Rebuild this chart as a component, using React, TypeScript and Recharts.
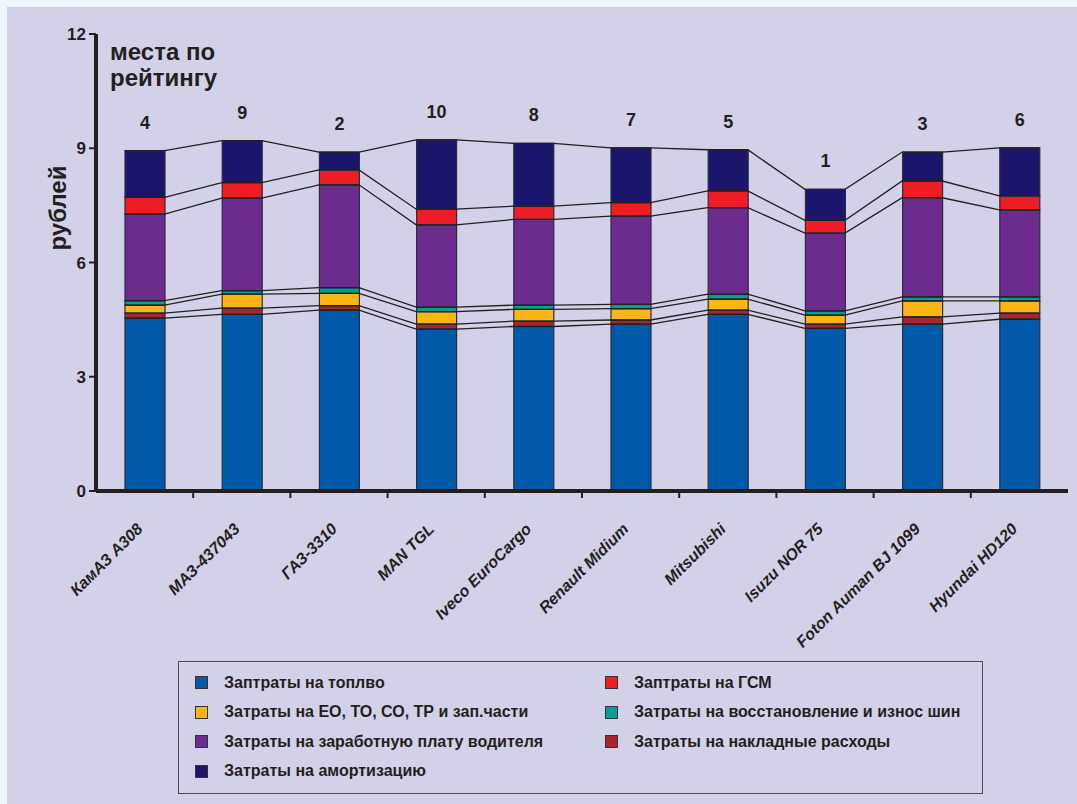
import { ComposedChart, Bar, Line, XAxis, YAxis, LabelList } from 'recharts';

const categories = ['КамАЗ А308', 'МАЗ-437043', 'ГАЗ-3310', 'MAN TGL', 'Iveco EuroCargo', 'Renault Midium', 'Mitsubishi', 'Isuzu NOR 75', 'Foton Auman BJ 1099', 'Hyundai HD120'];
const ranks = [4, 9, 2, 10, 8, 7, 5, 1, 3, 6];

// rubles per unit, stacked bottom to top
const fuel = [4.54, 4.64, 4.75, 4.25, 4.32, 4.38, 4.64, 4.27, 4.38, 4.51];
const overhead = [0.13, 0.16, 0.12, 0.13, 0.14, 0.11, 0.11, 0.11, 0.19, 0.16];
const maintenance = [0.21, 0.37, 0.32, 0.33, 0.31, 0.3, 0.29, 0.24, 0.42, 0.32];
const tires = [0.12, 0.09, 0.15, 0.12, 0.11, 0.11, 0.13, 0.11, 0.11, 0.11];
const salary = [2.27, 2.43, 2.7, 2.16, 2.25, 2.32, 2.27, 2.04, 2.6, 2.28];
const lubricants = [0.44, 0.41, 0.39, 0.41, 0.35, 0.35, 0.44, 0.34, 0.44, 0.37];
const depreciation = [1.23, 1.1, 0.47, 1.82, 1.65, 1.44, 1.08, 0.81, 0.76, 1.26];

const yTicks = [0, 3, 6, 9, 12];

const SERIES = [
  { key: 'fuel', values: fuel, color: '#0059a9', name: 'Заптраты на топлво' },
  { key: 'overhead', values: overhead, color: '#a3282f', name: 'Затраты на накладные расходы' },
  { key: 'maintenance', values: maintenance, color: '#fbb616', name: 'Затраты на ЕО, ТО, СО, ТР и зап.части' },
  { key: 'tires', values: tires, color: '#00a093', name: 'Затраты на восстановление и износ шин' },
  { key: 'salary', values: salary, color: '#6b2c8e', name: 'Затраты на заработную плату водителя' },
  { key: 'lubricants', values: lubricants, color: '#ee1c25', name: 'Заптраты на ГСМ' },
  { key: 'depreciation', values: depreciation, color: '#1b166b', name: 'Затраты на амортизацию' },
];

const legendCols = [
  ['fuel', 'maintenance', 'salary', 'depreciation'],
  ['lubricants', 'tires', 'overhead'],
];

const data = categories.map((name, i) => {
  const row: any = { name, rank: ranks[i] };
  let cum = 0;
  SERIES.forEach((s) => {
    row[s.key] = s.values[i];
    cum += s.values[i];
    row[`${s.key}Top`] = +cum.toFixed(3);
  });
  return row;
});

const FONT = "'Liberation Sans', Arial, sans-serif";
const INK = '#231f20';
const BAR_W = 40;
const W = 1077;
const H = 660;
const M = { top: 34, right: 9, left: 0, bottom: 0 };
const Y_W = 96;
const BAND = (W - M.left - M.right - Y_W) / categories.length;

// draws each point as a bar-wide flat step, joined edge to edge
const edgeCurve = (half: number) => (ctx: any) => ({
  _first: true,
  areaStart() {},
  areaEnd() {},
  lineStart() { this._first = true; },
  lineEnd() {},
  point(x: number, y: number) {
    if (this._first) { ctx.moveTo(x - half, y); this._first = false; } else ctx.lineTo(x - half, y);
    ctx.lineTo(x + half, y);
  },
});

const CategoryTick = ({ x, y, payload, index }: any) => (
  <g>
    {index < categories.length - 1 && (
      <line x1={x + BAND / 2} x2={x + BAND / 2} y1={y} y2={y + 7} stroke={INK} strokeWidth={2} />
    )}
    <text
      transform={`translate(${x - 1},${y + 39}) rotate(-45)`}
      textAnchor="end"
      fontFamily={FONT}
      fontWeight="bold"
      fontStyle="italic"
      fontSize={16}
      fill={INK}
    >
      {payload.value}
    </text>
  </g>
);

export default function App() {
  const byKey: any = Object.fromEntries(SERIES.map((s) => [s.key, s]));
  return (
    <div style={{ position: 'absolute', left: 0, top: 0, width: W, height: 804, background: '#eef7fd', overflow: 'hidden' }}>
      <div style={{ position: 'absolute', left: 7, top: 7, right: 0, bottom: 0, background: '#d3d1e7' }} />
      <div style={{ position: 'absolute', left: 0, top: 0 }}>
        <ComposedChart width={W} height={H} data={data} margin={M}>
          <XAxis
            dataKey="name"
            height={H - 491}
            axisLine={{ stroke: INK, strokeWidth: 4 }}
            tickLine={false}
            tickSize={0}
            tickMargin={0}
            interval={0}
            tick={<CategoryTick />}
          />
          <YAxis
            width={Y_W}
            domain={[0, 12]}
            ticks={yTicks}
            axisLine={{ stroke: INK, strokeWidth: 4 }}
            tickLine={{ stroke: INK, strokeWidth: 2 }}
            tickSize={7}
            tickMargin={3}
            tick={{ fill: INK, fontFamily: FONT, fontWeight: 'bold', fontSize: 17 }}
          />
          {SERIES.map((s) => (
            <Bar key={s.key} dataKey={s.key} stackId="a" barSize={BAR_W} fill={s.color} stroke="#2c2c3c" strokeWidth={1.2} isAnimationActive={false}>
              {s.key === 'depreciation' && (
                <LabelList dataKey="rank" position="top" offset={22} fill={INK} fontFamily={FONT} fontWeight="bold" fontSize={18} />
              )}
            </Bar>
          ))}
          {SERIES.map((s) => (
            <Line key={`${s.key}Top`} dataKey={`${s.key}Top`} type={edgeCurve(BAR_W / 2)} stroke={INK} strokeWidth={1.3} dot={false} activeDot={false} isAnimationActive={false} />
          ))}
          <text x={57} y={208} transform="rotate(-90 57 208)" textAnchor="middle" dominantBaseline="central" fontFamily={FONT} fontWeight="bold" fontSize={24} fill={INK}>
            рублей
          </text>
          <text x={110} y={60} fontFamily={FONT} fontWeight="bold" fontSize={24} fill={INK}>
            места по
          </text>
          <text x={110} y={86} fontFamily={FONT} fontWeight="bold" fontSize={24} fill={INK}>
            рейтингу
          </text>
        </ComposedChart>
      </div>
      <div
        style={{
          position: 'absolute', left: 178, top: 661, width: 805, height: 133, boxSizing: 'border-box',
          border: '1px solid #4a4a55', display: 'flex', padding: '6px 0 0 16px',
          fontFamily: FONT, fontWeight: 'bold', fontSize: 16, color: INK,
        }}
      >
        {legendCols.map((col, ci) => (
          <div key={ci} style={{ width: ci === 0 ? 410 : 370 }}>
            {col.map((k) => (
              <div key={k} style={{ display: 'flex', alignItems: 'center', height: 29.5, whiteSpace: 'nowrap' }}>
                <span style={{ width: 11, height: 11, background: byKey[k].color, border: '1px solid #333', marginRight: 16, flexShrink: 0 }} />
                <span>{byKey[k].name}</span>
              </div>
            ))}
          </div>
        ))}
      </div>
    </div>
  );
}
